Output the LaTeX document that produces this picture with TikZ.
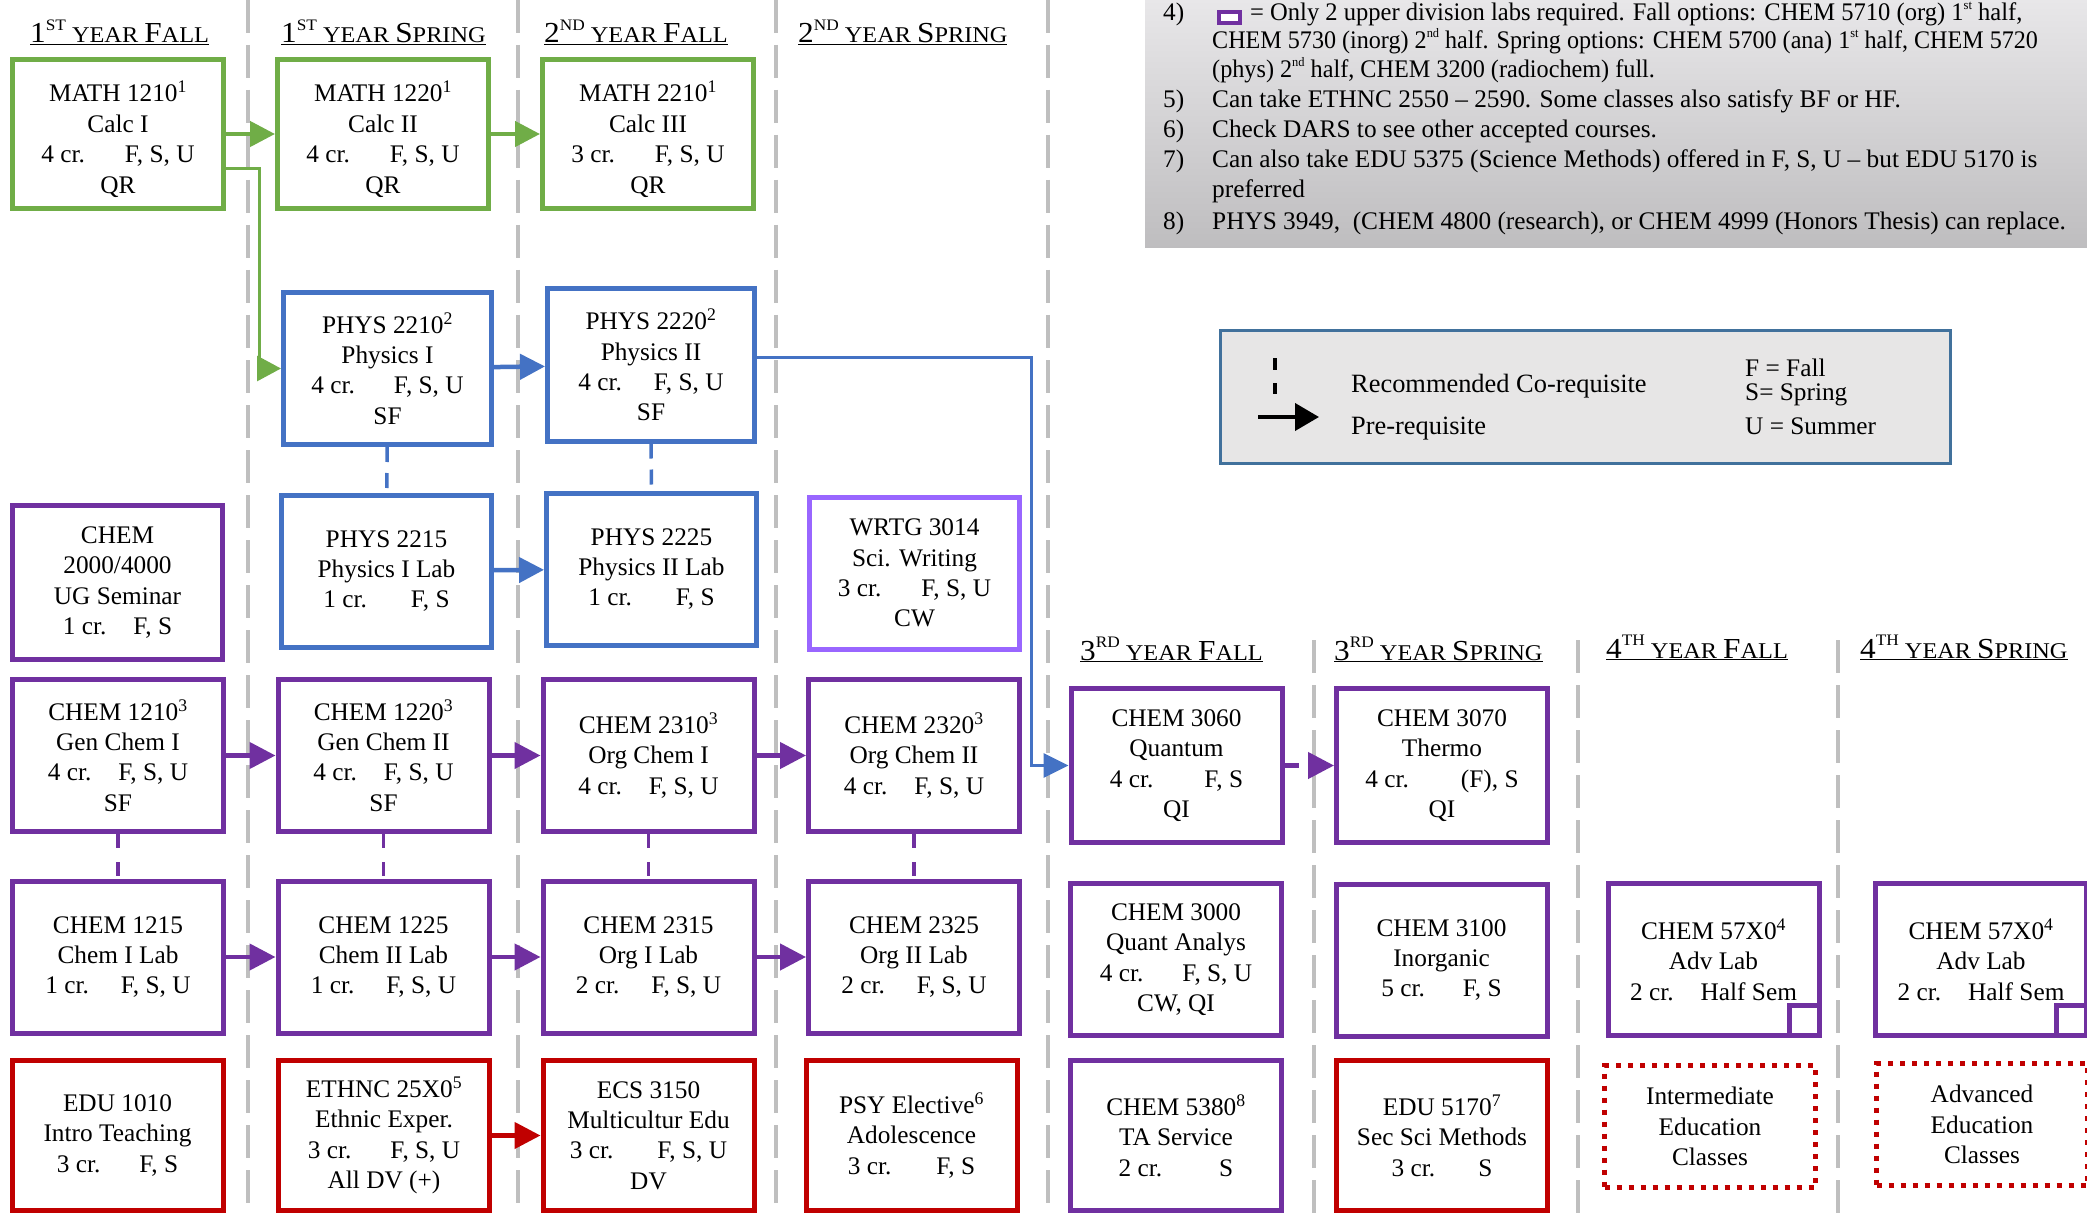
\documentclass[tikz,border=0pt]{standalone}
\usepackage{fontspec}
\usepackage{graphicx}
\setmainfont{Liberation Serif}
\usetikzlibrary{arrows.meta,calc}
\definecolor{cgreen}{HTML}{70AD47}
\definecolor{cblue}{HTML}{4472C4}
\definecolor{cpurple}{HTML}{7030A0}
\definecolor{clpurple}{HTML}{9966FF}
\definecolor{cred}{HTML}{C00000}
\definecolor{cdiv}{HTML}{BFBFBF}
\definecolor{clegend}{HTML}{41719C}
\definecolor{clegbg}{HTML}{E7E6E6}
\definecolor{cnotetop}{HTML}{E8E7E9}
\definecolor{cnotebot}{HTML}{BEBDBF}
\newcommand{\crl}[3]{#1\hspace{#3pt}#2}
\newcommand{\ssup}[1]{\raisebox{0.45em}{\fontsize{13}{13}\selectfont #1}}
\newcommand{\hdg}[4]{\scalebox{1.08}[1]{\underline{\fontsize{29}{30}\selectfont #1\raisebox{0.42em}{\fontsize{16}{16}\selectfont #2}\fontsize{22.5}{23}\selectfont\ YEAR \fontsize{29}{30}\selectfont #3\fontsize{22.5}{23}\selectfont #4}}}
\tikzset{
  box/.style={draw, line width=5pt, fill=white, align=center, inner sep=0pt,
    minimum width=211pt, minimum height=152pt, font=\fontsize{25.3}{30.4}\selectfont},
  gbox/.style={box, draw=cgreen},
  bbox/.style={box, draw=cblue},
  pbox/.style={box, draw=cpurple},
  lpbox/.style={box, draw=clpurple},
  rbox/.style={box, draw=cred},
  dbox/.style={box, draw=cred, dash pattern=on 5pt off 7pt, minimum height=122pt},
  divider/.style={cdiv, line width=3.5pt, dash pattern=on 33pt off 12pt},
  arrg/.style={cgreen, line width=4.5pt, -{Triangle[length=25pt,width=25pt]}},
  arrb/.style={cblue, line width=4.5pt, -{Triangle[length=25pt,width=25pt]}},
  arrp/.style={cpurple, line width=4.5pt, -{Triangle[length=26pt,width=26pt]}},
  arrr/.style={cred, line width=4.5pt, -{Triangle[length=26pt,width=26pt]}},
  thing/.style={cgreen, line width=3pt, -{Triangle[length=24pt,width=25pt]}},
  thinb/.style={cblue, line width=3pt, -{Triangle[length=25pt,width=24pt]}},
  corp/.style={cpurple, line width=3.5pt, dash pattern=on 14pt off 14pt},
  corb/.style={cblue, line width=3.5pt, dash pattern=on 15pt off 11pt},
  txt/.style={inner sep=0pt, anchor=base west, font=\fontsize{25.3}{29.7}\selectfont},
  ltxt/.style={inner sep=0pt, anchor=base west, font=\fontsize{26.4}{29.7}\selectfont},
  hd/.style={inner sep=0pt, anchor=base west},
}
\begin{document}
\begin{tikzpicture}[x=1pt,y=-1pt]
\useasboundingbox (0,0) rectangle (2087,1214);
\fill[white] (0,0) rectangle (2087,1214);
% dividers
\foreach \x in {248,518,776,1048} \draw[divider] (\x,0) -- (\x,1214);
\foreach \x in {1314,1578,1838} \draw[divider] (\x,640) -- (\x,1214);
% notes box
\shade[top color=cnotetop, bottom color=cnotebot] (1145,0) rectangle (2087,248);
\draw[cpurple, line width=4pt, fill=white] (1219,12) rectangle (1240,23);
\node[txt] (n4) at (1163,20.5) {4)};
\node[txt] (n4a) at (1250,20.5) {\scalebox{0.97}[1]{= Only 2 upper division labs required. Fall options: CHEM 5710 (org) 1\ssup{st} half,}};
\node[txt] (n4b) at (1212,49) {\scalebox{0.953}[1]{CHEM 5730 (inorg) 2\ssup{nd} half. Spring options: CHEM 5700 (ana) 1\ssup{st} half, CHEM 5720}};
\node[txt] (n4c) at (1212,78) {\scalebox{0.957}[1]{(phys) 2\ssup{nd} half, CHEM 3200 (radiochem) full.}};
\node[txt] (n5) at (1163,108) {5)};
\node[txt] (n5a) at (1212,108) {Can take ETHNC 2550 -- 2590. Some classes also satisfy BF or HF.};
\node[txt] (n6) at (1163,138) {6)};
\node[txt] (n6a) at (1212,138) {Check DARS to see other accepted courses.};
\node[txt] (n7) at (1163,168) {7)};
\node[txt] (n7a) at (1212,168) {Can also take EDU 5375 (Science Methods) offered in F, S, U -- but EDU 5170 is};
\node[txt] (n7b) at (1212,198) {preferred};
\node[txt] (n8) at (1163,230) {8)};
\node[txt] (n8a) at (1212,230) {PHYS 3949,\ \ (CHEM 4800 (research), or CHEM 4999 (Honors Thesis) can replace.};
% legend
\node[draw=clegend, fill=clegbg, line width=2.5pt, minimum width=730pt, minimum height=133pt, inner sep=0pt] (leg) at (1585.5,397) {};
\coordinate (ld1) at (1275,358);
\coordinate (ld2) at (1275,394);
\draw[black, line width=3.5pt, dash pattern=on 12pt off 13pt] (ld1) -- (ld2);
\coordinate (la1) at (1258,417);
\coordinate (la2) at (1319,417);
\draw[black, line width=4pt, -{Triangle[length=24pt,width=27pt]}] (la1) -- (la2);
\node[ltxt] (lt1) at (1351,392) {Recommended Co-requisite};
\node[ltxt] (lt2) at (1351,434) {Pre-requisite};
\node[txt] (lt3) at (1745,376) {F = Fall};
\node[txt] (lt4) at (1745,400) {S= Spring};
\node[txt] (lt5) at (1745,434) {U = Summer};
% headings
\node[hd] (h1) at (30,43) {\hdg{1}{ST}{F}{ALL}};
\node[hd] (h2) at (281,43) {\hdg{1}{ST}{S}{PRING}};
\node[hd] (h3) at (544,43) {\hdg{2}{ND}{F}{ALL}};
\node[hd] (h4) at (798,43) {\hdg{2}{ND}{S}{PRING}};
\node[hd] (h5) at (1080,660) {\hdg{3}{RD}{F}{ALL}};
\node[hd] (h6) at (1334,660) {\hdg{3}{RD}{S}{PRING}};
\node[hd] (h7) at (1606,658) {\hdg{4}{TH}{F}{ALL}};
\node[hd] (h8) at (1860,658) {\hdg{4}{TH}{S}{PRING}};
% row 1
\node[gbox, minimum height=149pt] (m1) at (118,134) {\rule{0pt}{31pt}MATH 1210\textsuperscript{1}\\Calc I\\\crl{4 cr.}{F, S, U}{40}\\QR};
\node[gbox, minimum height=149pt] (m2) at (383,134) {\rule{0pt}{31pt}MATH 1220\textsuperscript{1}\\Calc II\\\crl{4 cr.}{F, S, U}{40}\\QR};
\node[gbox, minimum height=149pt] (m3) at (648,134) {\rule{0pt}{31pt}MATH 2210\textsuperscript{1}\\Calc III\\\crl{3 cr.}{F, S, U}{40}\\QR};
% row 2
\node[bbox, minimum width=208pt] (p1) at (387.5,368.5) {PHYS 2210\textsuperscript{2}\\Physics I\\\crl{4 cr.}{F, S, U}{39}\\SF};
\node[bbox, minimum width=207pt] (p2) at (651,365) {PHYS 2220\textsuperscript{2}\\Physics II\\\crl{4 cr.}{F, S, U}{32}\\SF};
% row 3
\node[pbox, minimum width=210pt, minimum height=154pt] (s1) at (117.5,582.5) {CHEM\\2000/4000\\UG Seminar\\\crl{1 cr.}{F, S}{27}};
\node[bbox, minimum width=210pt] (p3) at (386.5,571) {PHYS 2215\\Physics I Lab\\\crl{1 cr.}{F, S}{44}};
\node[bbox, minimum width=210pt] (p4) at (651.5,569) {PHYS 2225\\Physics II Lab\\\crl{1 cr.}{F, S}{44}};
\node[lpbox, minimum width=210pt] (w1) at (914.5,573) {WRTG 3014\\Sci. Writing\\\crl{3 cr.}{F, S, U}{40}\\CW};
% row 4
\node[pbox] (c1) at (118,755.5) {CHEM 1210\textsuperscript{3}\\Gen Chem I\\\crl{4 cr.}{F, S, U}{27}\\SF};
\node[pbox] (c2) at (383.5,755.5) {CHEM 1220\textsuperscript{3}\\Gen Chem II\\\crl{4 cr.}{F, S, U}{27}\\SF};
\node[pbox] (c3) at (648.5,755.5) {CHEM 2310\textsuperscript{3}\\Org Chem I\\\crl{4 cr.}{F, S, U}{27}};
\node[pbox] (c4) at (914,755.5) {CHEM 2320\textsuperscript{3}\\Org Chem II\\\crl{4 cr.}{F, S, U}{27}};
% row 5
\node[pbox] (l1) at (118,957) {CHEM 1215\\Chem I Lab\\\crl{1 cr.}{F, S, U}{32}};
\node[pbox] (l2) at (383.5,957) {CHEM 1225\\Chem II Lab\\\crl{1 cr.}{F, S, U}{32}};
\node[pbox] (l3) at (648.5,957) {CHEM 2315\\Org I Lab\\\crl{2 cr.}{F, S, U}{32}};
\node[pbox] (l4) at (914,957) {CHEM 2325\\Org II Lab\\\crl{2 cr.}{F, S, U}{32}};
% row 6
\node[rbox, minimum height=150pt] (e1) at (117.5,1135.5) {EDU 1010\\Intro Teaching\\\crl{3 cr.}{F, S}{39}};
\node[rbox, minimum height=150pt] (e2) at (384,1135.5) {ETHNC 25X0\textsuperscript{5}\\Ethnic Exper.\\\crl{3 cr.}{F, S, U}{39}\\All DV (+)};
\node[rbox, minimum height=150pt] (e3) at (648.5,1135.5) {ECS 3150\\Multicultur Edu\\\crl{3 cr.}{F, S, U}{44}\\DV};
\node[rbox, minimum height=150pt] (e4) at (911.5,1135.5) {PSY Elective\textsuperscript{6}\\Adolescence\\\crl{3 cr.}{F, S}{45}};
% right part
\node[pbox, minimum height=154pt] (q1) at (1176.5,765.5) {CHEM 3060\\Quantum\\\crl{4 cr.}{F, S}{51}\\QI};
\node[pbox, minimum height=154pt] (q2) at (1442,765.5) {CHEM 3070\\Thermo\\\crl{4 cr.}{(F), S}{52}\\QI};
\node[pbox] (q3) at (1176,959.5) {CHEM 3000\\Quant Analys\\\crl{4 cr.}{F, S, U}{39}\\CW, QI};
\node[pbox] (q4) at (1441.5,960) {CHEM 3100\\Inorganic\\\crl{5 cr.}{F, S}{38}};
\node[pbox] (a1) at (1713.5,959.5) {CHEM 57X0\textsuperscript{4}\\Adv Lab\\\crl{2 cr.}{Half Sem}{27}};
\node[pbox] (a2) at (1981,959.5) {CHEM 57X0\textsuperscript{4}\\Adv Lab\\\crl{2 cr.}{Half Sem}{27}};
\draw[cpurple, line width=5pt] ([xshift=-32.5pt,yshift=32.5pt]a1.south east) rectangle ([xshift=-2.5pt,yshift=2.5pt]a1.south east);
\draw[cpurple, line width=5pt] ([xshift=-32.5pt,yshift=32.5pt]a2.south east) rectangle ([xshift=-2.5pt,yshift=2.5pt]a2.south east);
\node[pbox, minimum height=150pt] (q5) at (1176,1135.5) {CHEM 5380\textsuperscript{8}\\TA Service\\\crl{2 cr.}{S}{57}};
\node[rbox, minimum height=150pt] (q6) at (1442,1135.5) {EDU 5170\textsuperscript{7}\\Sec Sci Methods\\\crl{3 cr.}{S}{43}};
\node[dbox] (d1) at (1710,1126.5) {Intermediate\\Education\\Classes};
\node[dbox] (d2) at (1982,1124.5) {Advanced\\Education\\Classes};
% connectors
\draw[arrg] (m1) -- (m2);
\draw[arrg] (m2) -- (m3);
\draw[thing] ([yshift=-35pt]m1.east) -- ++(33,0) |- (p1.west);
\draw[arrb] (p1) -- (p2);
\draw[arrb] (p3) -- (p4);
\draw[thinb] ([yshift=8pt]p2.east) -| ($(q1.west)+(-37,0)$) -- (q1.west);
\draw[corb] (p1) -- (p3);
\draw[corb] (p2) -- (p4);
\draw[arrp] (c1) -- (c2);
\draw[arrp] (c2) -- (c3);
\draw[arrp] (c3) -- (c4);
\draw[arrp, dash pattern=on 14pt off 20pt] (q1) -- (q2);
\draw[arrp] (l1) -- (l2);
\draw[arrp] (l2) -- (l3);
\draw[arrp] (l3) -- (l4);
\draw[corp] (c1) -- (l1);
\draw[corp] (c2) -- (l2);
\draw[corp] (c3) -- (l3);
\draw[corp] (c4) -- (l4);
\draw[arrr] (e2) -- (e3);
\end{tikzpicture}
\end{document}
